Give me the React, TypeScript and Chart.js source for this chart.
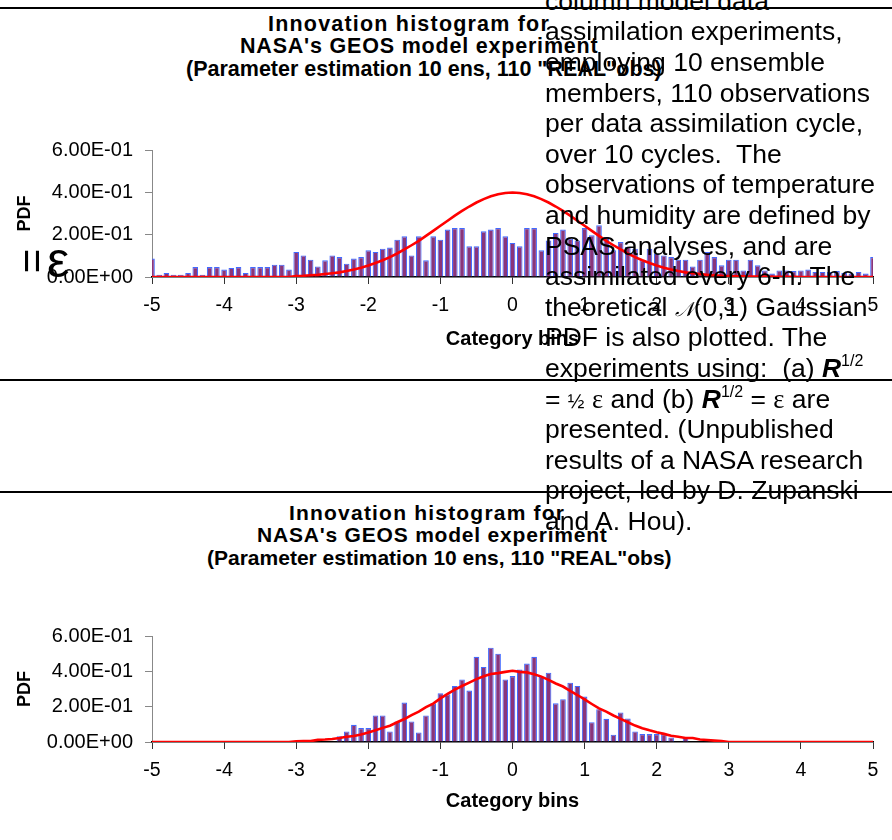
import React, { useEffect, useRef } from 'react';
import { Chart, registerables } from 'chart.js';

Chart.register(...registerables);

const BINS = [
  -5.0, -4.9, -4.8, -4.7, -4.6, -4.5, -4.4, -4.3, -4.2, -4.1,
  -4.0, -3.9, -3.8, -3.7, -3.6, -3.5, -3.4, -3.3, -3.2, -3.1,
  -3.0, -2.9, -2.8, -2.7, -2.6, -2.5, -2.4, -2.3, -2.2, -2.1,
  -2.0, -1.9, -1.8, -1.7, -1.6, -1.5, -1.4, -1.3, -1.2, -1.1,
  -1.0, -0.9, -0.8, -0.7, -0.6, -0.5, -0.4, -0.3, -0.2, -0.1,
  0.0, 0.1, 0.2, 0.3, 0.4, 0.5, 0.6, 0.7, 0.8, 0.9,
  1.0, 1.1, 1.2, 1.3, 1.4, 1.5, 1.6, 1.7, 1.8, 1.9,
  2.0, 2.1, 2.2, 2.3, 2.4, 2.5, 2.6, 2.7, 2.8, 2.9,
  3.0, 3.1, 3.2, 3.3, 3.4, 3.5, 3.6, 3.7, 3.8, 3.9,
  4.0, 4.1, 4.2, 4.3, 4.4, 4.5, 4.6, 4.7, 4.8, 4.9,
  5.0,
];

// (a) R^1/2 = 1/2 eps experiment
const TOP_PDF = [
  0.087, 0.011, 0.019, 0.011, 0.011, 0.019, 0.047, 0.011, 0.047, 0.047,
  0.035, 0.043, 0.047, 0.019, 0.047, 0.047, 0.047, 0.058, 0.058, 0.035,
  0.118, 0.102, 0.082, 0.050, 0.079, 0.102, 0.094, 0.063, 0.087, 0.094,
  0.126, 0.118, 0.134, 0.139, 0.176, 0.192, 0.102, 0.192, 0.079, 0.192,
  0.176, 0.224, 0.231, 0.231, 0.145, 0.145, 0.216, 0.224, 0.231, 0.192,
  0.161, 0.145, 0.231, 0.231, 0.126, 0.173, 0.208, 0.224, 0.181, 0.173,
  0.231, 0.197, 0.244, 0.189, 0.126, 0.165, 0.142, 0.134, 0.079, 0.134,
  0.110, 0.102, 0.094, 0.082, 0.082, 0.050, 0.082, 0.118, 0.094, 0.055,
  0.082, 0.082, 0.031, 0.082, 0.055, 0.031, 0.016, 0.031, 0.031, 0.028,
  0.031, 0.035, 0.024, 0.024, 0.024, 0.028, 0.019, 0.016, 0.024, 0.016,
  0.094,
];

const TOP_GAUSS = [
  0, 0, 0, 0, 0, 0, 0, 0, 0, 0,
  0, 0, 0, 0, 0, 0, 0, 0, 0, 0,
  0.005, 0.006, 0.008, 0.010, 0.014, 0.018, 0.022, 0.028, 0.035, 0.044,
  0.054, 0.066, 0.079, 0.094, 0.111, 0.130, 0.150, 0.171, 0.194, 0.218,
  0.242, 0.266, 0.290, 0.312, 0.333, 0.352, 0.368, 0.381, 0.391, 0.397,
  0.399, 0.397, 0.391, 0.381, 0.368, 0.352, 0.333, 0.312, 0.290, 0.266,
  0.242, 0.218, 0.194, 0.171, 0.150, 0.130, 0.111, 0.094, 0.079, 0.066,
  0.054, 0.044, 0.035, 0.028, 0.022, 0.018, 0.014, 0.010, 0.008, 0.006,
  0.005, 0.003, 0.003, 0.002, 0.002, 0.002, 0.001, 0.001, 0.001, 0.001,
  0, 0, 0, 0, 0, 0, 0, 0, 0, 0,
  0,
];

// (b) R^1/2 = eps experiment
const BOTTOM_PDF = [
  0, 0, 0, 0, 0, 0, 0, 0, 0, 0,
  0, 0, 0, 0, 0, 0, 0, 0, 0, 0,
  0, 0, 0, 0, 0, 0, 0.032, 0.060, 0.097, 0.079,
  0.079, 0.150, 0.150, 0.060, 0.116, 0.223, 0.116, 0.054, 0.150, 0.219,
  0.276, 0.270, 0.317, 0.354, 0.291, 0.482, 0.425, 0.534, 0.500, 0.354,
  0.373, 0.410, 0.444, 0.482, 0.369, 0.392, 0.219, 0.242, 0.336, 0.317,
  0.257, 0.112, 0.186, 0.131, 0.041, 0.167, 0.133, 0.060, 0.045, 0.045,
  0.045, 0.045, 0.026, 0, 0.026, 0, 0, 0, 0, 0,
  0, 0, 0, 0, 0, 0, 0, 0, 0, 0,
  0, 0, 0, 0, 0, 0, 0, 0, 0, 0,
  0,
];

const BOTTOM_GAUSS = [
  0, 0, 0, 0, 0, 0, 0, 0, 0, 0,
  0, 0, 0, 0, 0, 0, 0, 0, 0, 0,
  0.004, 0.005, 0.005, 0.012, 0.014, 0.017, 0.023, 0.030, 0.034, 0.043,
  0.054, 0.066, 0.080, 0.092, 0.112, 0.130, 0.152, 0.172, 0.197, 0.217,
  0.247, 0.272, 0.296, 0.317, 0.336, 0.356, 0.372, 0.385, 0.390, 0.397,
  0.403, 0.397, 0.394, 0.383, 0.370, 0.352, 0.331, 0.314, 0.289, 0.266,
  0.241, 0.215, 0.190, 0.172, 0.150, 0.131, 0.112, 0.093, 0.078, 0.066,
  0.055, 0.046, 0.035, 0.030, 0.023, 0.023, 0.014, 0.011, 0.008, 0.005,
  0, 0, 0, 0, 0, 0, 0, 0, 0, 0,
  0, 0, 0, 0, 0, 0, 0, 0, 0, 0,
  0,
];

const X_TICKS = [-5, -4, -3, -2, -1, 0, 1, 2, 3, 4, 5];
const Y_TICKS = [0, 0.2, 0.4, 0.6];
const TITLE_LINES = [
  'Innovation histogram for',
  "NASA's GEOS model experiment",
  '(Parameter estimation 10 ens, 110 "REAL"obs)',
];
const X_TITLE = 'Category bins';
const Y_TITLE = 'PDF';

const SANS = "'Liberation Sans', Arial, sans-serif";

function fmtExp(v: number): string {
  const [m, e] = v.toExponential(2).split('e');
  const n = parseInt(e, 10);
  return m + 'E' + (n < 0 ? '-' : '+') + String(Math.abs(n)).padStart(2, '0');
}

function buildChart(
  canvas: HTMLCanvasElement,
  pdf: number[],
  gauss: number[],
  padTop: number,
  xAxisH: number,
  xTitlePadBottom: number,
) {
  return new Chart(canvas, {
    type: 'bar',
    data: {
      datasets: [
        {
          type: 'line',
          data: BINS.map((x, i) => ({ x, y: gauss[i] })),
          borderColor: '#ff0000',
          borderWidth: 2.6,
          pointRadius: 0,
          fill: false,
          tension: 0,
          order: 0,
        } as any,
        {
          type: 'bar',
          data: BINS.map((x, i) => ({ x, y: pdf[i] })),
          backgroundColor: '#8a357a',
          borderColor: '#4169ff',
          borderWidth: 1.1,
          borderSkipped: 'start',
          barPercentage: 0.78,
          categoryPercentage: 1,
          order: 1,
        } as any,
      ],
    },
    options: {
      responsive: false,
      animation: false,
      devicePixelRatio: 1,
      layout: { padding: { top: padTop, right: 19, left: 0, bottom: 0 } },
      plugins: {
        legend: { display: false },
        tooltip: { enabled: false },
        title: { display: false },
      },
      scales: {
        x: {
          type: 'linear',
          min: -5,
          max: 5,
          offset: false,
          afterBuildTicks: (s: any) => {
            s.ticks = X_TICKS.map((v) => ({ value: v }));
          },
          afterFit: (s: any) => {
            s.height = xAxisH;
          },
          grid: {
            offset: false,
            drawOnChartArea: false,
            drawTicks: true,
            tickLength: 7,
            color: '#333',
            lineWidth: 1,
          },
          border: { display: true, color: '#000', width: 1.5 },
          ticks: {
            color: '#000',
            font: { family: SANS, size: 19.5 },
            padding: 10,
            maxRotation: 0,
            autoSkip: false,
            callback: (v: any) => String(v),
          },
          title: {
            display: true,
            text: X_TITLE,
            color: '#000',
            font: { family: SANS, size: 20, weight: 'bold' },
            padding: { top: 4, bottom: xTitlePadBottom },
          },
        } as any,
        y: {
          type: 'linear',
          min: 0,
          max: 0.6,
          afterBuildTicks: (s: any) => {
            s.ticks = Y_TICKS.map((v) => ({ value: v }));
          },
          afterFit: (s: any) => {
            s.width = 152;
          },
          grid: {
            drawOnChartArea: false,
            drawTicks: true,
            tickLength: 7,
            color: '#888',
            lineWidth: 1,
          },
          border: { display: true, color: '#888', width: 1 },
          ticks: {
            color: '#000',
            font: { family: SANS, size: 20 },
            padding: 12,
            autoSkip: false,
            callback: (v: any) => fmtExp(Number(v)),
          },
          title: {
            display: true,
            text: Y_TITLE,
            color: '#000',
            font: { family: SANS, size: 18, weight: 'bold' },
            padding: { top: 14, bottom: 4 },
          },
        } as any,
      },
    },
  });
}

const PARA_LEFT = 545;
const PARA_C0 = 3;
const PARA_STEP = 30.6;
const PARA_FONT = 26.5;

function paraTop(i: number) {
  return PARA_C0 + PARA_STEP * i - 17.3;
}

const RHalf = () => (
  <span>
    <b><i>R</i></b>
    <sup style={{ fontSize: 16, verticalAlign: 'baseline', position: 'relative', top: -11 }}>1/2</sup>
  </span>
);

const PARA_LINES: React.ReactNode[] = [
  'column model data',
  'assimilation experiments,',
  'employing 10 ensemble',
  'members, 110 observations',
  'per data assimilation cycle,',
  'over 10 cycles.  The',
  'observations of temperature',
  'and humidity are defined by',
  'PSAS analyses, and are',
  'assimilated every 6-h. The',
  <span>theoretical <span style={{ fontFamily: "'DejaVu Serif', serif", fontStyle: 'italic', fontSize: 20 }}>𝒩</span>(0,1) Gaussian</span>,
  'PDF is also plotted. The',
  <span>experiments using:  (a) <RHalf /></span>,
  <span>= <span style={{ fontSize: 20 }}>½</span> <span style={{ fontFamily: "'Liberation Serif', serif" }}>ε</span> and (b) <RHalf /> = <span style={{ fontFamily: "'Liberation Serif', serif" }}>ε</span> are</span>,
  'presented. (Unpublished',
  'results of a NASA research',
  'project, led by D. Zupanski',
  'and A. Hou).',
];

const TITLE_SPACING = [1.2, 0.8, 0];

function Titles({ lefts, cys, size }: { lefts: number[]; cys: number[]; size: number }) {
  return (
    <>
      {TITLE_LINES.map((t, i) => (
        <div
          key={i}
          style={{
            position: 'absolute',
            left: lefts[i],
            top: cys[i] - 13,
            fontFamily: SANS,
            fontWeight: 'bold',
            fontSize: size,
            letterSpacing: TITLE_SPACING[i],
            lineHeight: '26px',
            whiteSpace: 'pre',
            color: '#000',
          }}
        >
          {t}
        </div>
      ))}
    </>
  );
}

function HLine({ y }: { y: number }) {
  return (
    <div style={{ position: 'absolute', left: 0, top: y - 1, width: 892, height: 2, background: '#000' }} />
  );
}

export default function App() {
  const c1 = useRef<HTMLCanvasElement>(null);
  const c2 = useRef<HTMLCanvasElement>(null);

  useEffect(() => {
    const ch1 = buildChart(c1.current!, TOP_PDF, TOP_GAUSS, 30, 83, 9);
    const ch2 = buildChart(c2.current!, BOTTOM_PDF, BOTTOM_GAUSS, 36, 83, 12);
    return () => {
      ch1.destroy();
      ch2.destroy();
    };
  }, []);

  return (
    <div style={{ position: 'fixed', left: 0, top: 0, width: 892, height: 840, background: '#fff', overflow: 'hidden' }}>
      <canvas ref={c1} width={892} height={240} style={{ position: 'absolute', left: 0, top: 120, width: 892, height: 240 }} />
      <canvas ref={c2} width={892} height={225} style={{ position: 'absolute', left: 0, top: 600, width: 892, height: 225 }} />

      <HLine y={8} />
      <HLine y={380} />
      <HLine y={492} />

      <Titles lefts={[268, 240, 186]} cys={[24, 46, 69]} size={21.5} />
      <Titles lefts={[289, 257, 207]} cys={[513, 535, 558]} size={21} />

      {/* stray symbols at left of the upper chart */}
      <div style={{ position: 'absolute', left: 12, top: 238, width: 40, height: 46, textAlign: 'center', fontFamily: SANS, fontSize: 42, lineHeight: '46px', transform: 'rotate(90deg)', transformOrigin: '20px 23px' }}>=</div>
      <div style={{ position: 'absolute', left: 47, top: 233, fontFamily: SANS, fontSize: 50, lineHeight: '54px' }}>ε</div>

      {PARA_LINES.map((l, i) => (
        <div
          key={i}
          style={{
            position: 'absolute',
            left: PARA_LEFT,
            top: paraTop(i),
            fontFamily: SANS,
            fontSize: PARA_FONT,
            lineHeight: '30px',
            whiteSpace: 'pre',
            color: '#000',
          }}
        >
          {l}
        </div>
      ))}
    </div>
  );
}
